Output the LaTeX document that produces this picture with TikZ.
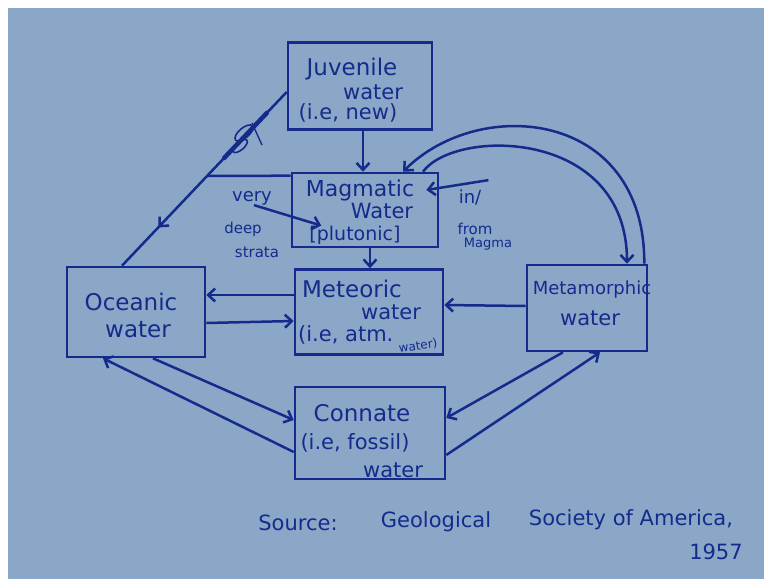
\documentclass[tikz,border=0pt]{standalone}
\usepackage{fontspec}
\setmainfont{DejaVu Sans}
\usetikzlibrary{arrows.meta,calc,decorations.markings}
\definecolor{bg}{RGB}{138,167,200}
\definecolor{ink}{RGB}{22,42,140}
\begin{document}
\begin{tikzpicture}[x=1pt,y=-1pt,
  box/.style={draw=ink,line width=2.6pt,inner sep=0pt},
  txt/.style={text=ink,inner sep=0pt,font=\fontsize{21}{24}\selectfont},
  big/.style={txt,font=\fontsize{23}{26}\selectfont},
  side/.style={text=ink,inner sep=0pt,font=\fontsize{15}{17}\selectfont},
  ln/.style={draw=ink,line width=2.5pt},
  arr/.style={ln,-{Straight Barb[length=7pt,width=13pt]}}]
\fill[white] (0,0) rectangle (764,579);
\fill[bg] (8,8) rectangle (764,579);
\useasboundingbox (0,0) rectangle (764,579);
% boxes
\node[box,minimum width=144pt,minimum height=87pt] (juv) at (360,86) {};
\node[box,minimum width=146pt,minimum height=74pt] (mag) at (365,210) {};
\node[box,minimum width=148pt,minimum height=85pt] (met) at (369,312) {};
\node[box,minimum width=138pt,minimum height=90pt] (oce) at (136,312) {};
\node[box,minimum width=120pt,minimum height=86pt] (mta) at (587,308) {};
\node[box,minimum width=150pt,minimum height=92pt] (con) at (370,433) {};
% texts
\node[big] (juv1) at (352,69) {Juvenile};
\node[txt] (juv2) at (373,92) {water};
\node[txt] (juv3) at (348,113) {(i.e, new)};
\node[big,font=\fontsize{22}{24}\selectfont] (mag1) at (360,190) {Magmatic};
\node[txt] (mag2) at (382,211) {Water};
\node[txt,font=\fontsize{19}{21}\selectfont] (mag3) at (355,235) {[plutonic]};
\node[side,font=\fontsize{18}{20}\selectfont] (very) at (252,198) {very};
\node[side] (deep) at (243,229) {deep};
\node[side] (strata) at (257,252) {strata};
\node[side,font=\fontsize{18}{20}\selectfont] (inn) at (470,197) {in/};
\node[side] (from) at (475,229) {from};
\node[side,font=\fontsize{13}{15}\selectfont] (magma) at (488,244) {Magma};
\node[big] (met1) at (352,289) {Meteoric};
\node[txt] (met2) at (391,312) {water};
\node[txt,anchor=west] (met3) at (298,335) {(i.e, atm.};
\node[txt,font=\fontsize{12}{14}\selectfont,rotate=8] (met4) at (418,346) {water)};
\node[big] (oce1) at (131,302) {Oceanic};
\node[big] (oce2) at (138,330) {water};
\node[txt,font=\fontsize{18}{20}\selectfont] (mta1) at (592,290) {Metamorphic};
\node[txt] (mta2) at (590,318) {water};
\node[big] (con1) at (362,413) {Connate};
\node[txt] (con2) at (355,443) {(i.e, fossil)};
\node[txt] (con3) at (393,470) {water};
\node[txt] (src1) at (298,523) {Source:};
\node[txt] (src2) at (436,522) {Geological};
\node[txt] (src3) at (631,520) {Society of America,};
\node[txt] (src4) at (716,552) {1957};
% vertical flow
\draw[arr] ([xshift=3pt]juv.south) -- ([xshift=-2pt]mag.north);
\draw[arr] ([xshift=5pt]mag.south) -- ([xshift=1pt]met.north);
% oceanic <-> meteoric
\draw[arr] ([yshift=17pt]met.west) -- ([yshift=17pt]oce.east);
\draw[arr] ([yshift=-11pt]oce.east) -- ([yshift=-9pt]met.west);
% metamorphic -> meteoric
\draw[arr] ([yshift=2pt]mta.west) -- ([yshift=7pt]met.east);
% oceanic <-> connate
\draw[arr] ([xshift=17pt]oce.south) -- ([yshift=13pt]con.west);
\draw[arr] ([yshift=-19pt]con.west) -- ([xshift=-33pt]oce.south);
% metamorphic <-> connate
\draw[arr] ([xshift=-24pt]mta.south) -- ([yshift=15pt]con.east);
\draw[arr] ([yshift=-22pt]con.east) -- ([xshift=13pt]mta.south);
% arcs between magmatic and metamorphic
\draw[arr] ([xshift=-4pt]mta.north east) .. controls (645,110) and (480,95) .. ([xshift=38pt]mag.north);
\draw[arr] ([xshift=58pt]mag.north) .. controls (455,128) and (627,128) .. ([xshift=40pt]mta.north);
% side arrows
\draw[arr] ([xshift=2pt]very.south) -- ([xshift=12pt]mag3.north west);
\draw[arr] ([xshift=7pt,yshift=9pt]inn.north east) -- ([xshift=12pt]mag1.east);
% diagonal from juvenile to oceanic with crossed-out label
\coordinate (d1) at ([yshift=-6pt]juv.west);
\coordinate (d2) at ([xshift=-14pt]oce.north);
\coordinate (jn) at ($(d1)!0.483!(d2)$);
\draw[ln,postaction={decorate,decoration={markings,mark=at position 0.78 with {\arrow{Straight Barb[length=7pt,width=13pt]}}}}] (d1) -- (d2);
\draw[ln] ([yshift=-4pt]mag.north west) -- (jn);
\draw[ink,line width=4.5pt,line cap=round] ($(d1)!0.12!(d2)$) -- ($(d1)!0.38!(d2)$);
\draw[ink,line width=1.6pt,rotate around={40:(244,133)}] (244,133) ellipse (11pt and 5pt);
\draw[ink,line width=1.6pt,rotate around={40:(240,146)}] (240,146) ellipse (9pt and 4pt);
\draw[ink,line width=1.4pt] (252,123) -- (262,145);
\end{tikzpicture}
\end{document}
